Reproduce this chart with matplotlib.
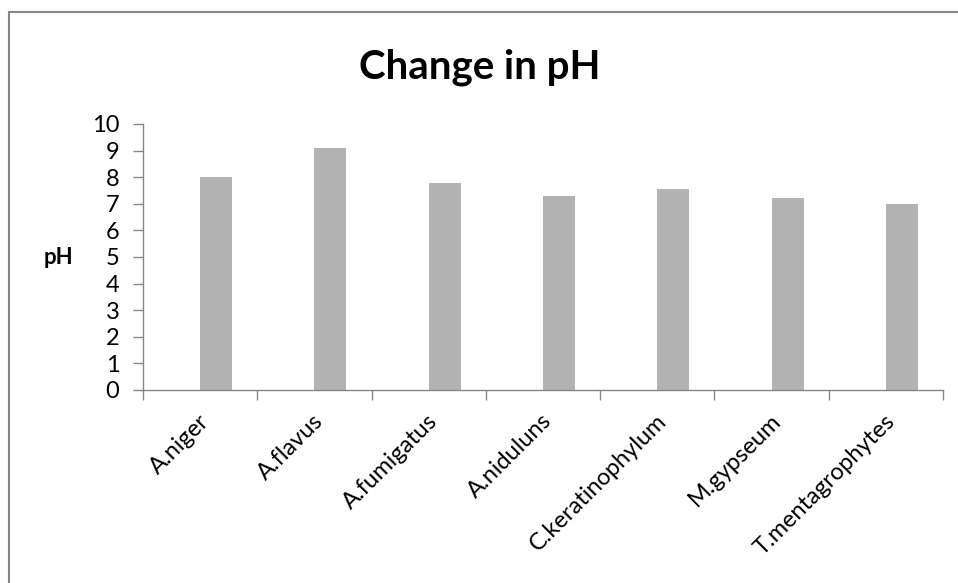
import matplotlib
matplotlib.use("Agg")
import matplotlib.pyplot as plt
from matplotlib.patches import Rectangle
import numpy as np

plt.rcParams["font.family"] = ["Lato", "DejaVu Sans"]

# pH measured for each fungus
organisms = ["A.niger", "A.flavus", "A.fumigatus", "A.niduluns",
             "C.keratinophylum", "M.gypseum", "T.mentagrophytes"]
ph_values = [8.0, 9.1, 7.8, 7.3, 7.55, 7.2, 7.0]
y_ticks = list(range(0, 11))

AXIS_GREY = "#868686"
BAR_GREY = "#b3b3b3"

fig = plt.figure(figsize=(9.58, 5.83), dpi=100)
ax = fig.add_axes([143 / 958, 1 - 390 / 583, 800 / 958, 266 / 583])

# outer chart frame (left and top edges visible)
fig.patches.append(Rectangle((9 / 958, -0.1), 1.2, 1 - 12 / 583 + 0.1,
                             transform=fig.transFigure, fill=False,
                             edgecolor=AXIS_GREY, linewidth=1.5))

x = np.arange(len(organisms))
bar_w = 0.28
ax.bar(x, ph_values, width=bar_w, align="edge", color=BAR_GREY)

ax.set_xlim(-0.5, len(organisms) - 0.5)
ax.set_ylim(0, 10)
ax.set_yticks(y_ticks)
ax.set_yticklabels([str(v) for v in y_ticks], fontsize=17)

# category boundary ticks on the x axis
ax.set_xticks(np.arange(len(organisms) + 1) - 0.5)
ax.set_xticklabels([])
for xi, name in zip(x, organisms):
    ax.annotate(name, xy=(xi, 0), xycoords=("data", "axes fraction"),
                xytext=(4, -20), textcoords="offset points",
                rotation=45, rotation_mode="anchor",
                ha="right", va="center", fontsize=17)

for side in ("top", "right"):
    ax.spines[side].set_visible(False)
for side in ("left", "bottom"):
    ax.spines[side].set_color(AXIS_GREY)
    ax.spines[side].set_linewidth(1.0)
ax.tick_params(axis="both", colors=AXIS_GREY, length=7, width=1.0,
               labelcolor="black")
ax.tick_params(axis="y", pad=10)

ax.set_ylabel("pH", fontsize=16, fontweight="bold", rotation=0,
              labelpad=24, va="center")
fig.text(480 / 958, 1 - 67 / 583, "Change in pH", ha="center", va="center",
         fontsize=29, fontweight="bold")

fig.savefig("out.png", dpi=100)
